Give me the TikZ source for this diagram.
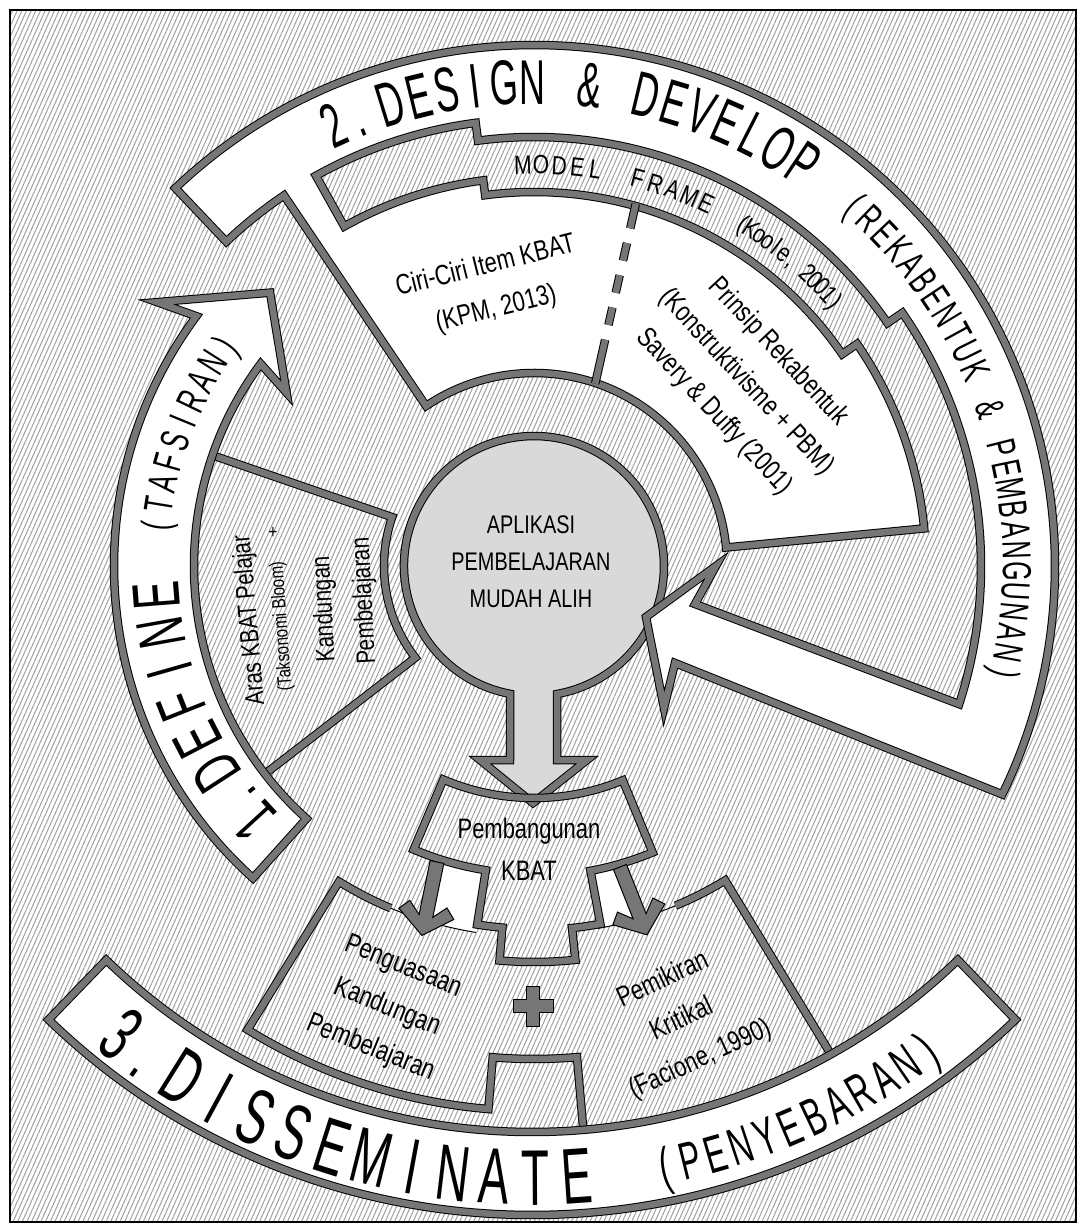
\documentclass[tikz,border=0pt]{standalone}
\usepackage{fontspec}
\setmainfont{Liberation Sans}
\usetikzlibrary{calc,patterns.meta}
\definecolor{RingGrey}{HTML}{767676}
\definecolor{HubGrey}{HTML}{D9D9D9}
\definecolor{HatchGrey}{HTML}{A0A0A0}
\tikzset{
  ring border/.style={draw=black,line width=0.2mm,double=RingGrey,double distance=1.3mm},
  white band/.style={ring border,fill=white},
  hatch fill/.style={pattern={Lines[angle=66,distance=0.85mm,line width=0.2mm]},pattern color=HatchGrey},
  grey piece/.style={draw=black,line width=0.2mm,fill=RingGrey},
  body text/.style={align=center,inner sep=0,xscale=0.78,font=\fontsize{16}{25}\selectfont},
  hub text/.style={align=center,inner sep=0,xscale=0.78,font=\fontsize{14.5}{21}\selectfont},
  big letter/.style={anchor=base,inner sep=0,xscale=0.57,font=\fontsize{36}{36}\selectfont},
  define letter/.style={anchor=base,inner sep=0,xscale=0.62,font=\fontsize{38}{38}\selectfont},
  huge letter/.style={anchor=base,inner sep=0,xscale=0.58,font=\fontsize{45}{45}\selectfont},
  mid letter/.style={anchor=base,inner sep=0,xscale=0.62,font=\fontsize{23}{23}\selectfont},
  wide letter/.style={anchor=base,inner sep=0,xscale=0.6,font=\fontsize{30}{30}\selectfont},
  small letter/.style={anchor=base,inner sep=0,xscale=0.8,font=\fontsize{15}{15}\selectfont}
}
% letters one by one round a centre: name, centre, baseline radius, first angle, step, style, letters
\newcommand\arcletters[7]{%
  \foreach \ch [count=\k from 0] in {#7}{%
    \pgfmathsetmacro\ang{#4+\k*(#5)}%
    \pgfmathsetmacro\rot{\ang+90*sign(#5)}%
    \node[rotate=\rot,#6] (#1-\k) at ($(#2)+(\ang:#3)$) {\ch};}}
% small barbed arrow: tail, direction, length
\newcommand\barbarrow[3]{%
  \draw[grey piece,shift={#1},rotate=#2] (0,7) -- (#3-20,7) -- (#3-32,19) -- (#3-22,28) -- (#3,0)
    -- (#3-22,-28) -- (#3-32,-19) -- (#3-20,-7) -- (0,-7) -- cycle;}

\begin{document}
\begin{tikzpicture}[x=0.2mm,y=0.2mm]
  \useasboundingbox (-534,-664) rectangle (552,566);
  \fill[white] (-534,-664) rectangle (552,566);
  \draw[hatch fill,line width=0.35mm] (-524,556) rectangle (542,-656);
  \coordinate (hub) at (0,0);
  \coordinate (dishub) at (-2,47);

  % lower outlines
  \draw[ring border] (247.3:371) arc[start angle=247.3,end angle=238.3,radius=371]
    -- (238.3:545) arc[start angle=238.3,end angle=265.2,radius=545]
    -- (265.2:493) arc[start angle=265.2,end angle=275,radius=493] -- (275:590);
  \draw[ring border] (292.6:368) arc[start angle=292.6,end angle=301.3,radius=368] -- (301.3:600);

  % 3. disseminate band
  \draw[white band] ($(dishub)+(226:696)$) arc[start angle=226,end angle=314,radius=696]
    -- ($(dishub)+(314:613)$) arc[start angle=314,end angle=226,radius=613] -- cycle;

  % define: sector and band
  \draw[ring border] (161:350) -- (161:150) arc[start angle=161,end angle=217.7,radius=150] -- (217.7:350);
  \draw[white band] (228:420) arc[start angle=228,end angle=143.5,radius=420]
    -- (145:460) -- (134:380) -- (145:302) -- (143.5:340)
    arc[start angle=143.5,end angle=228,radius=340] -- cycle;

  % hub with down arrow
  \draw[ring border,fill=HubGrey] (23,-194) -- (23,-128) arc[start angle=-79.8,end angle=259.4,radius=130]
    -- (-24,-194) -- (-54,-194) -- (-1,-237) -- (53,-194) -- cycle;

  % 2. design band with frame and arrow
  \draw[white band] (133.5:521) arc[start angle=133.5,end angle=-26,radius=521]
    -- (141,-97) -- (130,-142) -- (112,-51) -- (182,0) -- (161,-38)
    -- (-18:447) arc[start angle=-18,end angle=34.5,radius=447]
    -- (34.5:429) arc[start angle=34.5,end angle=97.5,radius=429]
    -- (97.5:447) arc[start angle=97.5,end angle=119.2,radius=447]
    -- (119.2:389) arc[start angle=119.2,end angle=97.5,radius=389]
    -- (97.5:374) arc[start angle=97.5,end angle=34.5,radius=374]
    -- (34.5:392) arc[start angle=34.5,end angle=5.5,radius=392]
    -- (5.5:193) arc[start angle=5.5,end angle=124,radius=193]
    -- (124:447) arc[start angle=124,end angle=133.5,radius=447] -- cycle;
  \draw[ring border,dash pattern=on 5mm off 3mm on 3.6mm off 3mm on 3.6mm off 3mm on 3.6mm off 3mm on 9mm]
    (74.3:376) -- (71.4:191);

  % pembangunan piece
  \fill[white] (252.5:305) -- (252.5:371) arc[start angle=252.5,end angle=261,radius=371] -- (261:305) -- cycle;
  \fill[white] (280.5:305) -- (280.5:368) arc[start angle=280.5,end angle=286.5,radius=368] -- (286.5:305) -- cycle;
  \draw[line width=0.2mm] (247.3:371) arc[start angle=247.3,end angle=261,radius=371];
  \draw[line width=0.2mm] (280:368) arc[start angle=280,end angle=292.6,radius=368];
  \draw[ring border] (247:232) arc[start angle=247,end angle=292.5,radius=232]
    -- (292.5:310) arc[start angle=292.5,end angle=280.5,radius=310]
    -- (280.5:364) arc[start angle=280.5,end angle=276,radius=364]
    -- (276:396) arc[start angle=276,end angle=265,radius=396]
    -- (265:363) arc[start angle=265,end angle=261,radius=363]
    -- (261:308) arc[start angle=261,end angle=247,radius=308] -- cycle;
  \barbarrow{(-97,-296)}{258.4}{75}
  \barbarrow{(86,-301)}{291.7}{73}
  \draw[grey piece,shift={(-1,-440)}] (-6.5,20) -- (6.5,20) -- (6.5,6.5) -- (20,6.5) -- (20,-6.5)
    -- (6.5,-6.5) -- (6.5,-20) -- (-6.5,-20) -- (-6.5,-6.5) -- (-20,-6.5) -- (-20,6.5) -- (-6.5,6.5) -- cycle;

  % texts
  \node[hub text] (hubtxt) at (-3,4) {APLIKASI\\PEMBELAJARAN\\MUDAH ALIH};
  \node[rotate=14,body text] (ciri) at (-43,278) {Ciri-Ciri Item KBAT\\(KPM, 2013)};
  \node[rotate=-47,body text] (prinsip) at (212,184) {Prinsip Rekabentuk\\(Konstruktivisme + PBM)\\Savery \& Duffy (2001)};
  \node[rotate=95,body text,font=\fontsize{15}{15}\selectfont] (aras) at (-284,-54) {Aras KBAT Pelajar};
  \node[rotate=94,body text,font=\fontsize{11}{11}\selectfont] (bloom) at (-252,-60) {(Taksonomi Bloom)};
  \node[body text,font=\fontsize{11}{11}\selectfont] (plus) at (-261,33) {+};
  \node[rotate=93,body text,font=\fontsize{15}{15}\selectfont] (kand) at (-209,-43) {Kandungan};
  \node[rotate=93,body text,font=\fontsize{15}{15}\selectfont] (pemb) at (-169,-35) {Pembelajaran};
  \node[body text,font=\fontsize{16}{24}\selectfont] (bina) at (-5,-283) {Pembangunan\\KBAT};
  \node[rotate=-22,body text] (kuasa) at (-147,-442) {Penguasaan\\Kandungan\\Pembelajaran};
  \node[rotate=25,body text] (fikir) at (148,-454) {Pemikiran\\Kritikal\\(Facione, 1990)};

  \arcletters{dd}{hub}{462}{114.5}{-3.1}{big letter}{2,.}
  \arcletters{dw}{hub}{462}{107.2}{-3.4}{big letter}{D,E,S,I,G,N,,\&,,D,E,V,E,L,O,P}
  \arcletters{rk}{hub}{469}{48.4}{-2.45}{mid letter}{{(},R,E,K,A,B,E,N,T,U,K,,\&,,P,E,M,B,A,N,G,U,N,A,N,{)}}
  \arcletters{mo}{hub}{392}{91.6}{-2.6}{small letter}{M,O,D,E,L}
  \arcletters{fr}{hub}{392}{75}{-2.6}{small letter}{F,R,A,M,E}
  \arcletters{ko}{hub}{392}{58.6}{-1.45}{small letter}{{(},K,o,o,l,e,{,},,2,0,0,1,{)}}
  \arcletters{od}{hub}{356}{222.5}{-4}{define letter}{1,.}
  \arcletters{df}{hub}{356}{213}{-5.7}{define letter}{D,E,F,I,N,E}
  \arcletters{tf}{hub}{366}{174}{-3.29}{mid letter}{{(},T,A,F,S,I,R,A,N,{)}}
  \arcletters{td}{dishub}{686}{231.4}{2.9}{huge letter}{3,.}
  \arcletters{ds}{dishub}{686}{238}{3.59}{huge letter}{D,I,S,S,E,M,I,N,A,T,E}
  \arcletters{py}{dishub}{679}{281.6}{2.28}{wide letter}{{(},P,E,N,Y,E,B,A,R,A,N,{)}}
\end{tikzpicture}
\end{document}
